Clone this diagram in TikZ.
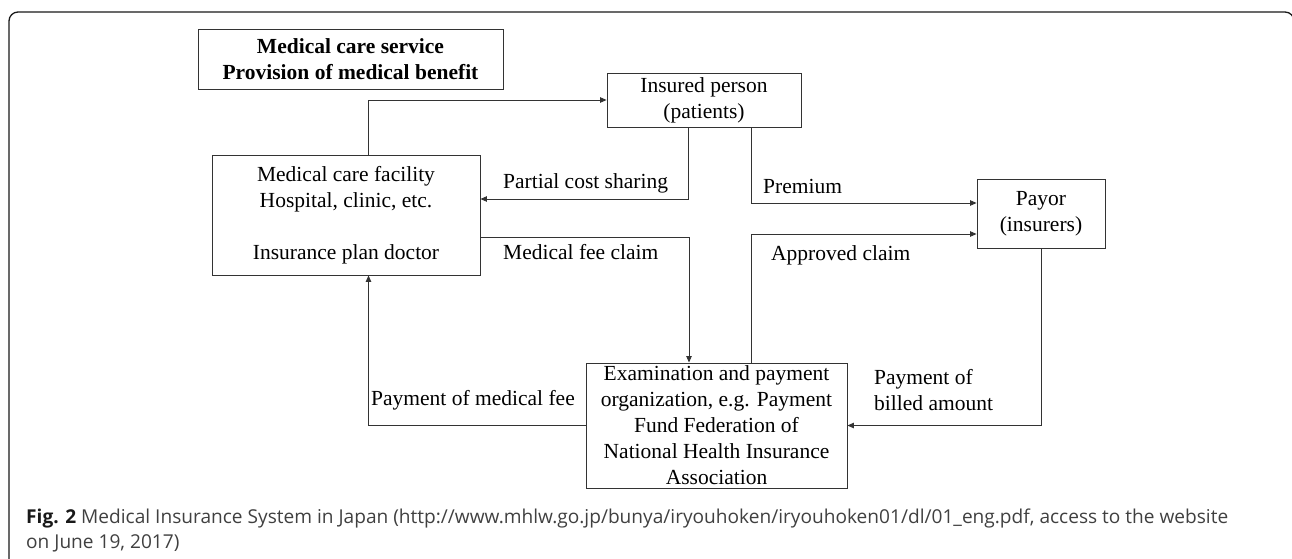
\documentclass[tikz,border=0pt]{standalone}
\usepackage{fontspec}
\setmainfont{Liberation Serif}
\newfontfamily\capfont{Open Sans}
\usetikzlibrary{arrows.meta, positioning, calc}

\newcommand{\diafont}{\fontsize{21.5}{26}\selectfont}

\begin{document}
\begin{tikzpicture}[
    x=1pt, y=-1pt,
    box/.style={draw=black!80, line width=0.9pt, rectangle, align=center, inner sep=0pt, font=\diafont, minimum width=#1},
    box/.default=150pt,
    flow/.style={-{Triangle[length=6.5pt, width=5.5pt]}, line width=0.9pt, draw=black!80},
    flowlabel/.style={font=\diafont, anchor=base west, inner sep=0pt},
    frame/.style={line width=1.3pt, draw=black!90, rounded corners=9pt}
]
\useasboundingbox (0,0) rectangle (1292,559);

% --- Frame ---
\draw[frame] (9,559) -- (9,12) -- (1294,12) -- (1294,559);

% --- Boxes ---
\node[box=305pt, minimum height=60pt, font=\diafont\bfseries] (service) at (350.5,59) {Medical care service\\Provision of medical benefit};
\node[box=194pt, minimum height=54pt]  (insured)  at (704,100)    {Insured person\\(patients)};
\node[box=268pt, minimum height=120pt] (facility) at (346,215)    {Medical care facility\\Hospital, clinic, etc.\\[26pt]Insurance plan doctor};
\node[box=128pt, minimum height=69pt]  (payor)    at (1041,213.5) {Payor\\(insurers)};
\node[box=261pt, minimum height=125pt] (exam)     at (716.5,425.5) {Examination and payment\\organization, e.g. Payment\\Fund Federation of\\National Health Insurance\\Association};

% --- Flows ---
\draw[flow] ([xshift=22.5pt]facility.north) |- (insured.west);
\draw[flow] ([xshift=-16pt]insured.south) |- ([yshift=16pt]facility.east);
\draw[flow] ([yshift=-22pt]facility.east) -| ([xshift=-27.5pt]exam.north);
\draw[flow] ([xshift=47pt]insured.south) |- ([yshift=10.5pt]payor.west);
\draw[flow] ([xshift=34.5pt]exam.north) |- ([yshift=-20.5pt]payor.west);
\draw[flow] (payor.south) |- (exam.east);
\draw[flow] (exam.west) -| ([xshift=22.5pt]facility.south);

% --- Labels ---
\node[flowlabel] (costlbl)   at (503,188) {Partial cost sharing};
\node[flowlabel] (claimlbl)  at (503,259) {Medical fee claim};
\node[flowlabel] (premlbl)   at (763,193) {Premium};
\node[flowlabel] (approvlbl) at (771,260) {Approved claim};
\node[flowlabel] (feelbl)    at (371,405) {Payment of medical fee};
\node[flowlabel, align=left] (billlbl) at (874,410) {Payment of\\billed amount};

% --- Caption ---
\node[anchor=base west, inner sep=0pt, align=left, text=black!75, font=\capfont\fontsize{19.1}{25}\selectfont] (caption) at (26,548)
    {\textbf{\color{black!90}Fig. 2} Medical Insurance System in Japan (http://www.mhlw.go.jp/bunya/iryouhoken/iryouhoken01/dl/01\_eng.pdf, access to the website\\on June 19, 2017)};

\end{tikzpicture}
\end{document}
